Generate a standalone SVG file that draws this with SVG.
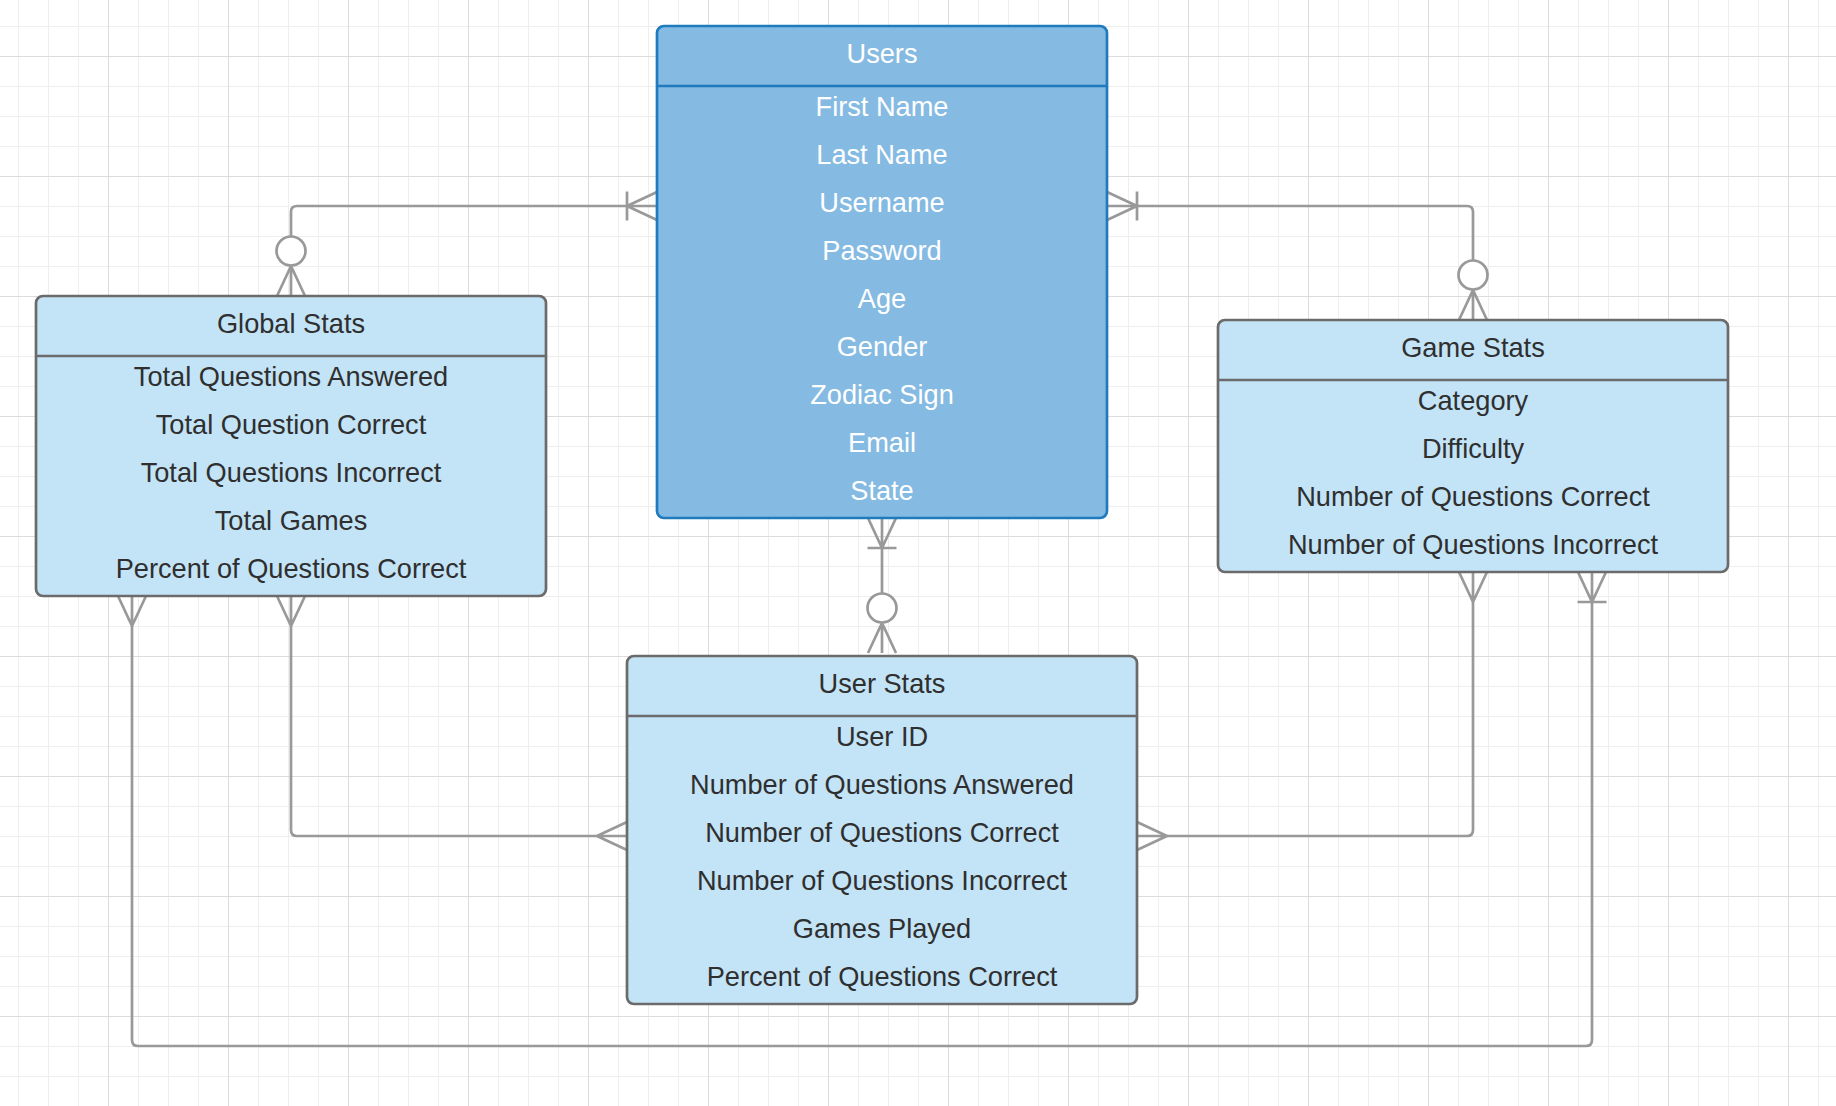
<svg xmlns="http://www.w3.org/2000/svg" xmlns:xlink="http://www.w3.org/1999/xlink" width="1836" height="1106" viewBox="0 0 1836 1106">
  <style>
    .grid-minor { stroke: #eeeeee; stroke-width: 1; fill: none; }
    .grid-major { stroke: #dcdcdc; stroke-width: 1; fill: none; }
    .link { stroke: #999999; stroke-width: 2.7; fill: none; }
    .end path { stroke: #999999; stroke-width: 2.7; fill: none; }
    .end circle { stroke: #999999; stroke-width: 2.7; fill: #ffffff; }
    .box { fill: #c3e3f6; stroke: #6b6b6b; stroke-width: 2.7; }
    .box-primary { fill: #85bae2; stroke: #1f7bbd; stroke-width: 2.7; }
    .divider { stroke: #6b6b6b; stroke-width: 2.7; }
    .divider-primary { stroke: #1f7bbd; stroke-width: 2.7; }
    text { font-family: "Liberation Sans", Arial, sans-serif; font-size: 27.2px; text-anchor: middle; }
    .label { fill: #2f2f2f; }
    .label-primary { fill: #ffffff; }
  </style>
  <defs>
    <!-- background grid: 30px minor cells, 120px major cells -->
    <pattern id="gridMinor" patternUnits="userSpaceOnUse" x="0" y="0" width="30" height="30">
      <path class="grid-minor" d="M18.5 0 V30 M0 26.5 H30"/>
    </pattern>
    <pattern id="gridMajor" patternUnits="userSpaceOnUse" x="0" y="0" width="120" height="120">
      <path class="grid-major" d="M108.5 0 V120 M0 56.5 H120"/>
    </pattern>
    <!-- crow's-foot ends; the entity edge sits at local x=30 -->
    <g id="many" class="end">
      <path d="M0 0 L30 -14 M0 0 L30 14 M0 0 H30"/>
    </g>
    <g id="oneOrMany" class="end">
      <path d="M0 0 L30 -14 M0 0 L30 14 M0 0 H30 M0 -14.5 V14.5"/>
    </g>
    <g id="zeroOrMany" class="end">
      <path d="M0 0 L30 -14 M0 0 L30 14 M0 0 H30"/>
      <circle cx="-15" cy="0" r="14.5"/>
    </g>
  </defs>

  <rect x="0" y="0" width="1836" height="1106" fill="#ffffff"/>
  <rect x="0" y="0" width="1836" height="1106" fill="url(#gridMinor)"/>
  <rect x="0" y="0" width="1836" height="1106" fill="url(#gridMajor)"/>

  <g id="connectors">
    <!-- Users to Global Stats -->
    <path class="link" d="M627 206 H297 Q291 206 291 212 V236.5"/>
    <use xlink:href="#oneOrMany" transform="translate(627,206)"/>
    <use xlink:href="#zeroOrMany" transform="translate(291,266) rotate(90)"/>

    <!-- Users to Game Stats -->
    <path class="link" d="M1137 206 H1467 Q1473 206 1473 212 V260.5"/>
    <use xlink:href="#oneOrMany" transform="translate(1137,206) rotate(180)"/>
    <use xlink:href="#zeroOrMany" transform="translate(1473,290) rotate(90)"/>

    <!-- Users to User Stats -->
    <path class="link" d="M882 548 V593.5"/>
    <use xlink:href="#oneOrMany" transform="translate(882,548) rotate(-90)"/>
    <use xlink:href="#zeroOrMany" transform="translate(882,623) rotate(90)"/>

    <!-- Global Stats to Game Stats (bottom loop) -->
    <path class="link" d="M132 626 V1040 Q132 1046 138 1046 H1586 Q1592 1046 1592 1040 V602"/>
    <use xlink:href="#many" transform="translate(132,626) rotate(-90)"/>
    <use xlink:href="#oneOrMany" transform="translate(1592,602) rotate(-90)"/>

    <!-- Global Stats to User Stats -->
    <path class="link" d="M291 626 V830 Q291 836 297 836 H597"/>
    <use xlink:href="#many" transform="translate(291,626) rotate(-90)"/>
    <use xlink:href="#many" transform="translate(597,836)"/>

    <!-- User Stats to Game Stats -->
    <path class="link" d="M1167 836 H1467 Q1473 836 1473 830 V602"/>
    <use xlink:href="#many" transform="translate(1167,836) rotate(180)"/>
    <use xlink:href="#many" transform="translate(1473,602) rotate(-90)"/>
  </g>

  <g id="users">
    <rect class="box-primary" x="657" y="26" width="450" height="492" rx="7"/>
    <line class="divider-primary" x1="657" y1="86" x2="1107" y2="86"/>
    <text class="label-primary" x="882" y="62.5">Users</text>
    <text class="label-primary" x="882" y="116">First Name</text>
    <text class="label-primary" x="882" y="164">Last Name</text>
    <text class="label-primary" x="882" y="212">Username</text>
    <text class="label-primary" x="882" y="260">Password</text>
    <text class="label-primary" x="882" y="308">Age</text>
    <text class="label-primary" x="882" y="356">Gender</text>
    <text class="label-primary" x="882" y="404">Zodiac Sign</text>
    <text class="label-primary" x="882" y="452">Email</text>
    <text class="label-primary" x="882" y="500">State</text>
  </g>

  <g id="global-stats">
    <rect class="box" x="36" y="296" width="510" height="300" rx="7"/>
    <line class="divider" x1="36" y1="356" x2="546" y2="356"/>
    <text class="label" x="291" y="332.5">Global Stats</text>
    <text class="label" x="291" y="386">Total Questions Answered</text>
    <text class="label" x="291" y="434">Total Question Correct</text>
    <text class="label" x="291" y="482">Total Questions Incorrect</text>
    <text class="label" x="291" y="530">Total Games</text>
    <text class="label" x="291" y="578">Percent of Questions Correct</text>
  </g>

  <g id="game-stats">
    <rect class="box" x="1218" y="320" width="510" height="252" rx="7"/>
    <line class="divider" x1="1218" y1="380" x2="1728" y2="380"/>
    <text class="label" x="1473" y="356.5">Game Stats</text>
    <text class="label" x="1473" y="410">Category</text>
    <text class="label" x="1473" y="458">Difficulty</text>
    <text class="label" x="1473" y="506">Number of Questions Correct</text>
    <text class="label" x="1473" y="554">Number of Questions Incorrect</text>
  </g>

  <g id="user-stats">
    <rect class="box" x="627" y="656" width="510" height="348" rx="7"/>
    <line class="divider" x1="627" y1="716" x2="1137" y2="716"/>
    <text class="label" x="882" y="692.5">User Stats</text>
    <text class="label" x="882" y="746">User ID</text>
    <text class="label" x="882" y="794">Number of Questions Answered</text>
    <text class="label" x="882" y="842">Number of Questions Correct</text>
    <text class="label" x="882" y="890">Number of Questions Incorrect</text>
    <text class="label" x="882" y="938">Games Played</text>
    <text class="label" x="882" y="986">Percent of Questions Correct</text>
  </g>
</svg>
